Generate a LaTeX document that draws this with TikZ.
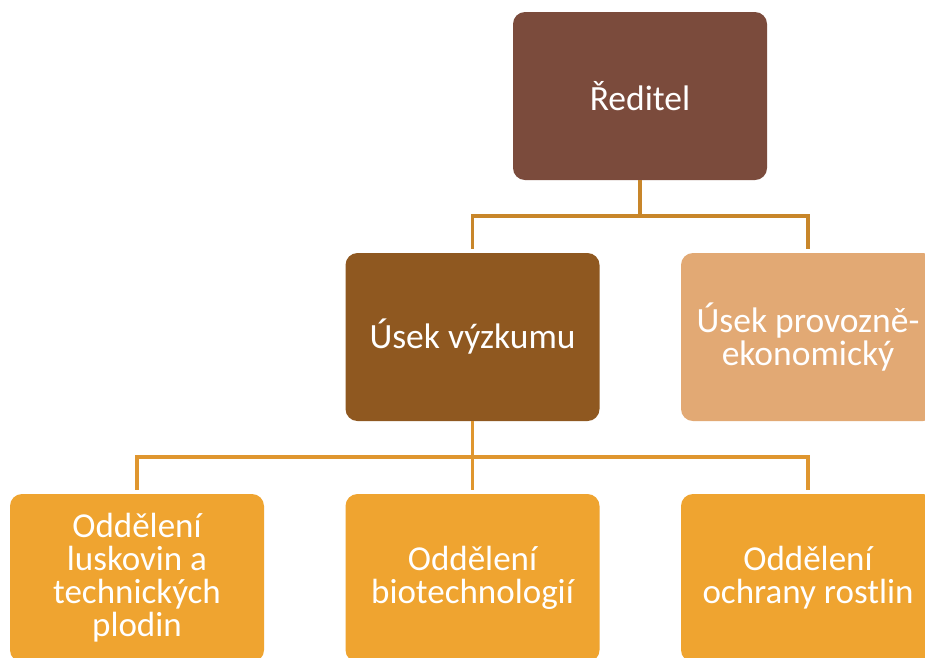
\documentclass[tikz,border=0pt]{standalone}
\usepackage{fontspec}
\setmainfont{Carlito}
\definecolor{cDir}{RGB}{123,75,60}
\definecolor{cRes}{RGB}{143,88,32}
\definecolor{cEco}{RGB}{226,169,116}
\definecolor{cDep}{RGB}{239,164,48}
\definecolor{cLineA}{RGB}{200,134,42}
\definecolor{cLineB}{RGB}{223,150,47}
\tikzset{
  orgbox/.style={rectangle, rounded corners=12pt, minimum width=254pt, minimum height=168pt,
    inner sep=0pt, text=white, align=center, font=\fontsize{35.5}{33}\selectfont},
  depbox/.style={orgbox, fill=cDep, font=\fontsize{35}{33}\selectfont},
  linkA/.style={draw=cLineA, line width=3.5pt},
  linkB/.style={draw=cLineB, line width=3.5pt}
}
\begin{document}
\begin{tikzpicture}[x=1pt,y=1pt]
\useasboundingbox (0,-657) rectangle (925,0);
\clip (0,-657) rectangle (925,0);
\fill[white] (0,-657) rectangle (925,0);
\node[orgbox, fill=cDir] (dir) at (640,-96) {Ředitel};
\node[orgbox, fill=cRes] (res) at (472.5,-337) {Úsek výzkumu};
\node[orgbox, fill=cEco] (eco) at (808,-337) {Úsek provozně-\\ekonomický};
\node[depbox] (d1) at (137,-578) {Oddělení\\luskovin a\\technických\\plodin};
\node[depbox] (d2) at (472.5,-578) {Oddělení\\biotechnologií};
\node[depbox] (d3) at (808,-578) {Oddělení\\ochrany rostlin};
\coordinate (j1) at (640,-216);
\coordinate (j2) at (472.5,-457);
\draw[linkA] (dir.south) -- (j1);
\draw[linkA] ([yshift=4pt]res.north) |- (j1) -| ([yshift=4pt]eco.north);
\draw[linkB] (res.south) -- ([yshift=4pt]d2.north);
\draw[linkB] ([yshift=4pt]d1.north) |- (j2) -| ([yshift=4pt]d3.north);
\end{tikzpicture}
\end{document}
